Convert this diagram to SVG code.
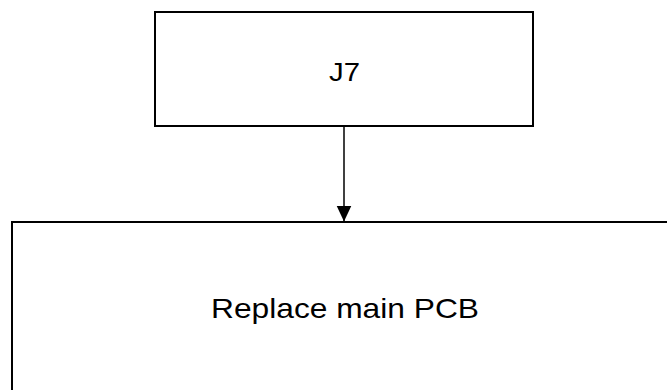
<svg xmlns="http://www.w3.org/2000/svg" width="667" height="390" viewBox="0 0 667 390">
  <style>
    .box { fill: #ffffff; stroke: #000000; stroke-width: 2; }
    .label { font-family: "Liberation Sans", Arial, sans-serif; fill: #000000; text-anchor: middle; }
    .edge { stroke: #000000; stroke-width: 1.5; fill: none; }
  </style>
  <defs>
    <marker id="arrow" markerUnits="userSpaceOnUse" markerWidth="16" markerHeight="17" refX="16" refY="7.5" orient="auto">
      <path d="M0,0 L16,7.5 L0,15 Z" fill="#000000"/>
    </marker>
  </defs>
  <rect width="667" height="390" fill="#ffffff"/>
  <g id="connectors">
    <line class="edge" x1="344" y1="126" x2="344" y2="221.5" marker-end="url(#arrow)"/>
  </g>
  <g id="node-j7">
    <rect class="box" x="155" y="12" width="378" height="114"/>
    <text class="label" x="344.5" y="80.7" font-size="25" textLength="31" lengthAdjust="spacingAndGlyphs">J7</text>
  </g>
  <g id="node-replace">
    <rect class="box" x="12" y="222" width="700" height="200"/>
    <text class="label" x="345" y="318.3" font-size="28" textLength="268" lengthAdjust="spacingAndGlyphs">Replace main PCB</text>
  </g>
</svg>
